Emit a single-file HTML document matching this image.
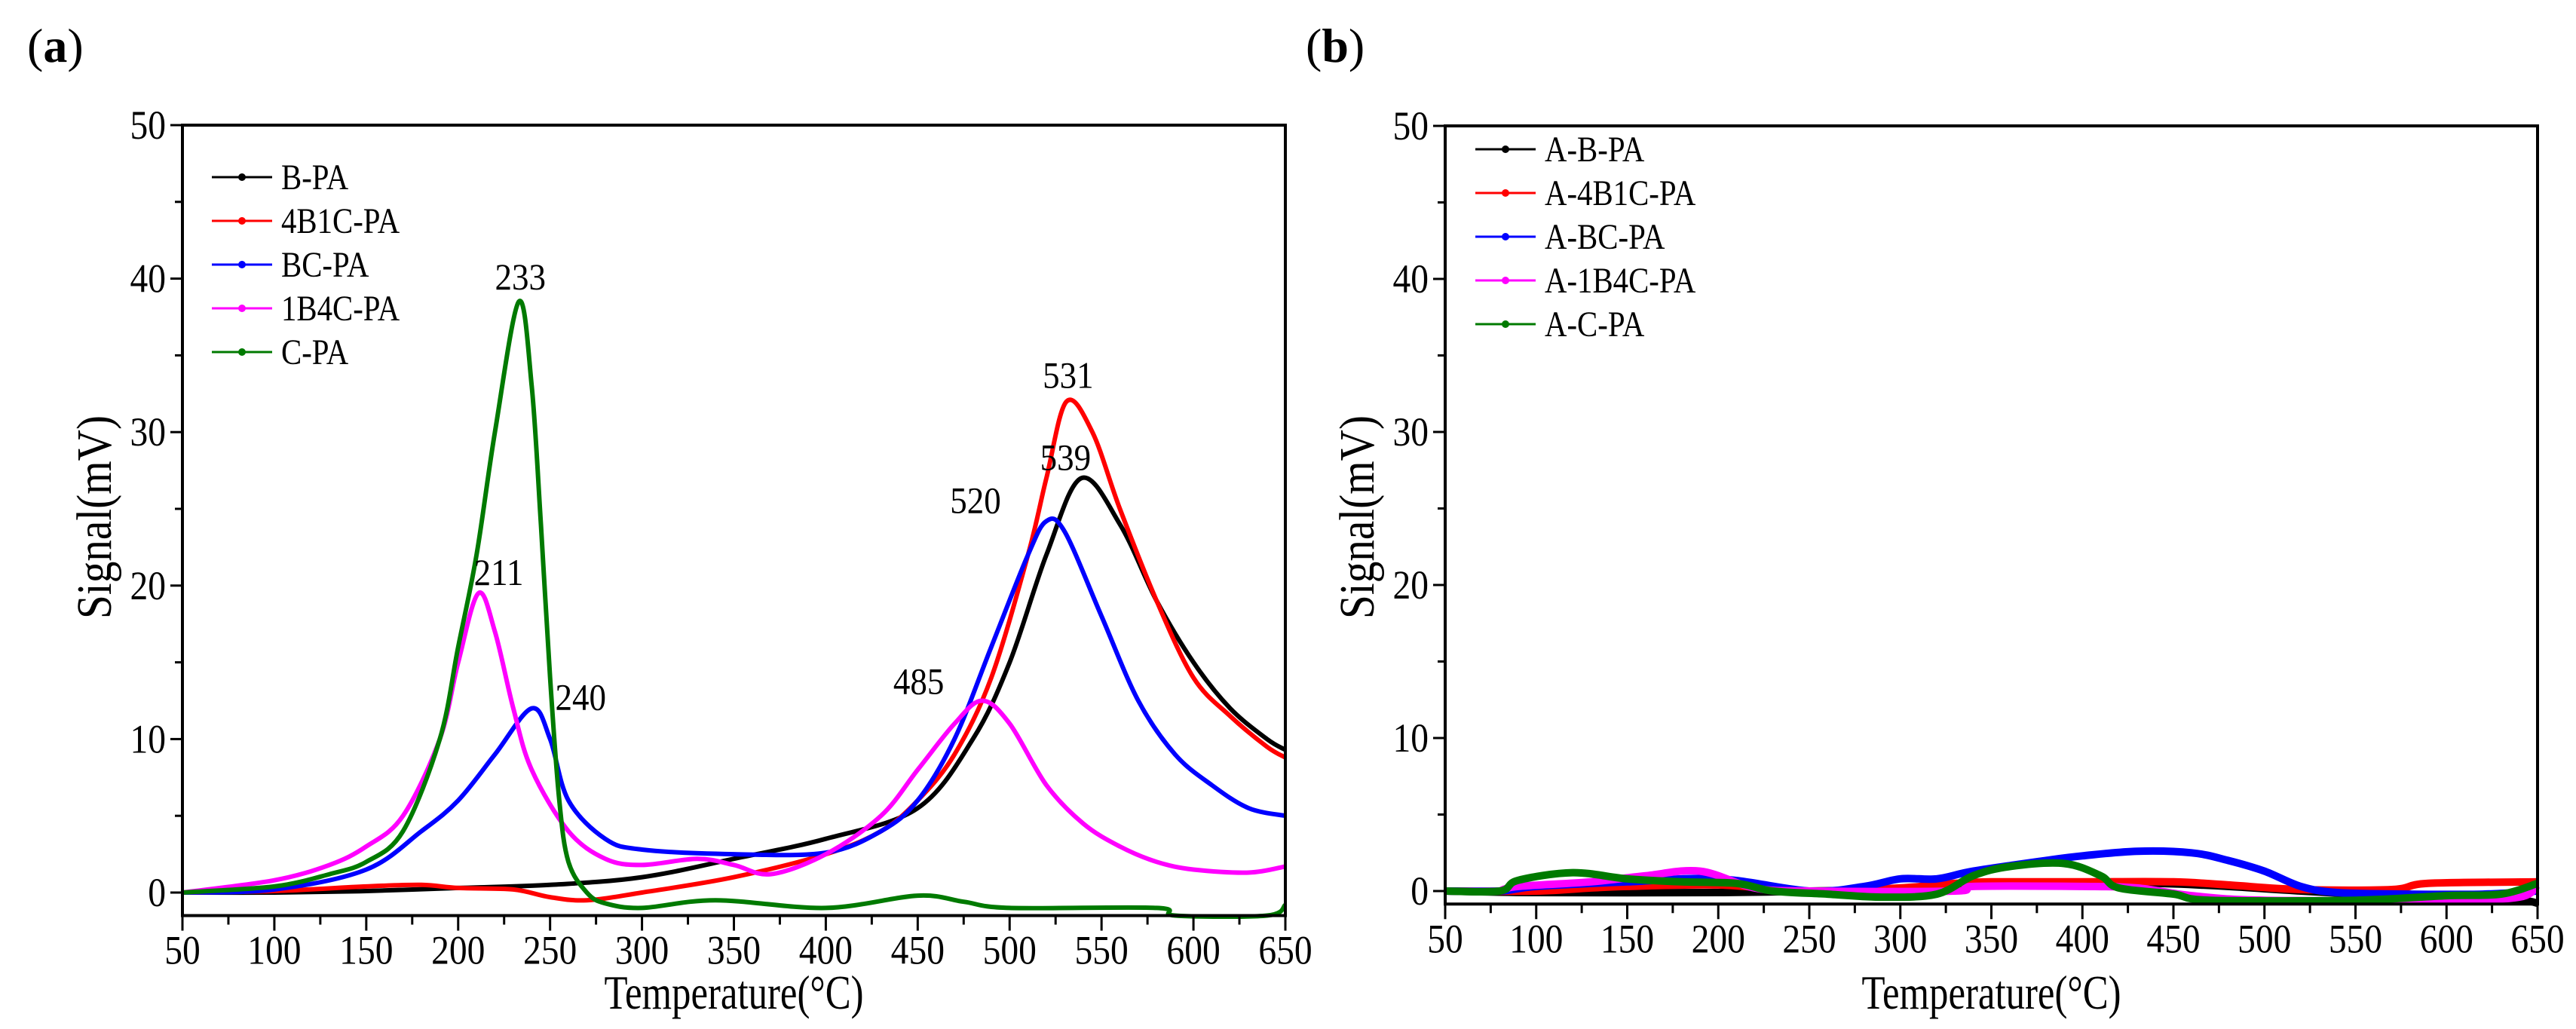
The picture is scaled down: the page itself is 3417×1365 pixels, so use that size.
<!DOCTYPE html>
<html><head><meta charset="utf-8">
<style>
html,body{margin:0;padding:0;background:#fff;}
svg{display:block;font-family:"Liberation Serif",serif;}
</style></head>
<body>
<svg id="fig" width="3417" height="1365" viewBox="0 0 3417 1365" xmlns="http://www.w3.org/2000/svg">
<text x="36" y="82" font-size="64">(<tspan font-weight="bold">a</tspan>)</text>
<text x="1732" y="82" font-size="64">(<tspan font-weight="bold">b</tspan>)</text>
<g id="pa"></g>
<g id="pb"></g>
</svg>
<script>
const seriesNamesA = ["B-PA","4B1C-PA","BC-PA","1B4C-PA","C-PA"];
const seriesNamesB = ["A-B-PA","A-4B1C-PA","A-BC-PA","A-1B4C-PA","A-C-PA"];
const seriesColors = ["#000000","#ff0000","#0000ff","#ff00ff","#007a00"];
const xTicks = [50,100,150,200,250,300,350,400,450,500,550,600,650];
const yTicks = [0,10,20,30,40,50];

const aBT = [50,100,150,200,250,300,350,400,450,480,500,520,539,560,580,600,620,640,650];
const aBV = [0,0,0.1,0.3,0.5,1,2.2,3.5,5.5,10,15,22,27,24,19,15,12,10,9.3];
const aRT = [50,100,150,180,200,230,250,270,300,350,400,430,450,470,490,510,520,531,545,560,580,600,620,640,650];
const aRV = [0,0.1,0.4,0.5,0.3,0.2,-0.3,-0.5,0,1,2.5,4,6,9,14,22,27,32,30,25,19,14,11.5,9.5,8.8];
const aLT = [50,100,150,180,200,220,240,250,260,280,300,350,400,430,450,470,490,510,520,530,550,570,590,610,630,650];
const aLV = [0,0.2,1.5,4,6,9,12,10,6,3.5,2.8,2.5,2.6,4,6,10,16,22,24.2,23.5,18,12.5,9,7,5.5,5];
const aMT = [50,100,130,150,170,190,200,211,220,230,240,260,280,300,330,350,370,400,430,450,470,485,500,520,540,560,580,600,630,650];
const aMV = [0,0.8,1.8,3,5,10,15,19.5,17,12,8,4,2.2,1.8,2.2,1.8,1.2,2.5,5,8,11,12.5,11,7,4.5,3,2,1.5,1.3,1.7];
const aGT = [50,100,130,150,170,190,200,210,220,233,240,245,250,255,260,270,280,300,340,400,450,475,500,580,590,640,650];
const aGV = [0,0.4,1.2,2,4,10,16,22,30,38.5,33,24,14,6,2,0,-0.7,-1,-0.5,-1,-0.2,-0.6,-1,-1,-1.5,-1.5,-0.8];

const bBT = [50,100,200,250,300,350,400,440,480,520,600,640,650];
const bBV = [0,-0.1,-0.1,0,0.1,0.4,0.5,0.5,0.3,0,-0.5,-0.6,-0.8];
const bRT = [50,100,130,150,200,250,300,330,350,400,450,480,520,570,590,650];
const bRV = [0,0,0.2,0.3,0.4,0,0.2,0.5,0.6,0.6,0.6,0.4,0.1,0.1,0.5,0.6];
const bLT = [50,80,100,150,200,250,280,300,320,340,380,400,430,460,480,500,520,540,580,620,650];
const bLV = [0,0,0.3,0.6,0.8,0,0.3,0.8,0.8,1.3,2,2.3,2.6,2.5,2,1.3,0.3,-0.1,-0.2,-0.2,0];
const bMT = [80,90,130,160,190,220,250,330,340,400,430,460,500,600,640,650];
const bMV = [0,0.3,0.6,1,1.3,0.2,0,0,0.3,0.3,0.2,-0.3,-0.6,-0.6,-0.4,0.4];
const bGT = [50,80,90,120,150,180,210,230,260,290,320,340,360,390,410,420,450,470,550,600,630,650];
const bGV = [0,0,0.7,1.2,0.8,0.6,0.5,0,-0.2,-0.4,-0.2,1,1.6,1.8,1,0.2,-0.2,-0.6,-0.6,-0.3,-0.2,0.5];

const NS="http://www.w3.org/2000/svg";
function mk(tag,parent){const e=document.createElementNS(NS,tag);parent.appendChild(e);return e;}
function condense(t,f){const w=t.getComputedTextLength();t.setAttribute("textLength",(w*f).toFixed(1));t.setAttribute("lengthAdjust","spacingAndGlyphs");}
function smooth(pts){
  let d="M"+pts[0][0].toFixed(1)+","+pts[0][1].toFixed(1);
  for(let i=0;i<pts.length-1;i++){
    const p0=pts[i-1]||pts[i],p1=pts[i],p2=pts[i+1],p3=pts[i+2]||p2;
    const c1=[p1[0]+(p2[0]-p0[0])/6,p1[1]+(p2[1]-p0[1])/6];
    const c2=[p2[0]-(p3[0]-p1[0])/6,p2[1]-(p3[1]-p1[1])/6];
    d+=" C"+c1[0].toFixed(1)+","+c1[1].toFixed(1)+" "+c2[0].toFixed(1)+","+c2[1].toFixed(1)+" "+p2[0].toFixed(1)+","+p2[1].toFixed(1);
  }
  return d;
}
function panel(g,cfg){
  const X=t=>cfg.x0+(t-50)/600*(cfg.x1-cfg.x0);
  const Y=v=>cfg.y0-v*cfg.py;
  const yBot=Y(cfg.ymin), yTop=Y(50);
  cfg.series.forEach((s,i)=>{
    const p=mk("path",g);
    p.setAttribute("d",smooth(s.t.map((t,k)=>[X(t),Y(s.v[k])])));
    p.setAttribute("fill","none");p.setAttribute("stroke",seriesColors[i]);
    p.setAttribute("stroke-width",cfg.sw);p.setAttribute("stroke-linejoin","round");
    
    
  });
  const r=mk("rect",g);
  r.setAttribute("x",cfg.x0);r.setAttribute("y",yTop);r.setAttribute("width",cfg.x1-cfg.x0);r.setAttribute("height",yBot-yTop);
  r.setAttribute("fill","none");r.setAttribute("stroke","#000");r.setAttribute("stroke-width","4");
  
  
  for(let t=50;t<=650;t+=25){
    const major=(t%50===0);
    const l=mk("line",g);
    l.setAttribute("x1",X(t));l.setAttribute("x2",X(t));l.setAttribute("y1",yBot);l.setAttribute("y2",yBot+(major?20:12));
    l.setAttribute("stroke","#000");l.setAttribute("stroke-width","3");
    
    
  }
  xTicks.forEach(t=>{
    const tx=mk("text",g);tx.textContent=t;
    tx.setAttribute("x",X(t));tx.setAttribute("y",yBot+64);tx.setAttribute("font-size","54");tx.setAttribute("text-anchor","middle");
    
    
    condense(tx,0.88);
  });
  for(let v=0;v<=50;v+=5){
    const l=mk("line",g);
    l.setAttribute("x1",cfg.x0-(v%10===0?16:10));l.setAttribute("x2",cfg.x0);l.setAttribute("y1",Y(v));l.setAttribute("y2",Y(v));
    l.setAttribute("stroke","#000");l.setAttribute("stroke-width","3");
    
    
  }
  yTicks.forEach(v=>{
    const tx=mk("text",g);tx.textContent=v;
    tx.setAttribute("x",cfg.x0-22);tx.setAttribute("y",Y(v)+18);tx.setAttribute("font-size","54");tx.setAttribute("text-anchor","end");
    
    
    condense(tx,0.88);
  });
  const xt=mk("text",g);xt.textContent="Temperature(°C)";
  xt.setAttribute("x",(cfg.x0+cfg.x1)/2);xt.setAttribute("y",1338);xt.setAttribute("font-size","64");xt.setAttribute("text-anchor","middle");
  xt.setAttribute("textLength","344");xt.setAttribute("lengthAdjust","spacingAndGlyphs");
  
  
  const yt=mk("text",g);yt.textContent="Signal(mV)";
  yt.setAttribute("transform","translate("+(cfg.x0-95)+",686) rotate(-90)");yt.setAttribute("font-size","66");yt.setAttribute("text-anchor","middle");
  yt.setAttribute("textLength","270");yt.setAttribute("lengthAdjust","spacingAndGlyphs");
  
  
  cfg.names.forEach((n,i)=>{
    const y=cfg.ly+i*58;
    const l=mk("line",g);
    l.setAttribute("x1",cfg.lx);l.setAttribute("x2",cfg.lx+80);l.setAttribute("y1",y);l.setAttribute("y2",y);
    l.setAttribute("stroke",seriesColors[i]);l.setAttribute("stroke-width","3");
    
    
    const c=mk("circle",g);c.setAttribute("cx",cfg.lx+40);c.setAttribute("cy",y);c.setAttribute("r","5");c.setAttribute("fill",seriesColors[i]);
    
    
    const tx=mk("text",g);tx.textContent=n;
    tx.setAttribute("x",cfg.lx+92);tx.setAttribute("y",y+16);tx.setAttribute("font-size","48");
    
    
    condense(tx,0.85);
  });
  return {X,Y};
}
const A=panel(document.getElementById("pa"),{x0:242,x1:1705,y0:1184,py:20.36,ymin:-1.5,lx:281,ly:235,sw:6,names:seriesNamesA,
  series:[{t:aBT,v:aBV},{t:aRT,v:aRV},{t:aLT,v:aLV},{t:aMT,v:aMV},{t:aGT,v:aGV}]});
panel(document.getElementById("pb"),{x0:1917,x1:3366,y0:1182,py:20.3,ymin:-0.85,lx:1957,ly:198,sw:10,names:seriesNamesB,
  series:[{t:bBT,v:bBV},{t:bRT,v:bRV},{t:bLT,v:bLV},{t:bMT,v:bMV},{t:bGT,v:bGV}]});
const peakTemps=[233,211,240,531,539,520,485];
const peakVals=[38.5,19.5,12,32,27,24.2,12.5];
const peakDx=[2,27,65,2,-21,-94,-84];
const peakDy=[-16,-11,2,-18,-11,-11,-9];
const ga=document.getElementById("pa");
peakTemps.forEach((t,i)=>{
  const tx=mk("text",ga);tx.textContent=t;
  tx.setAttribute("x",A.X(t)+peakDx[i]);tx.setAttribute("y",A.Y(peakVals[i])+peakDy[i]);
  tx.setAttribute("font-size","50");tx.setAttribute("text-anchor","middle");
  
  
  condense(tx,0.9);
});
</script>
</body></html>
